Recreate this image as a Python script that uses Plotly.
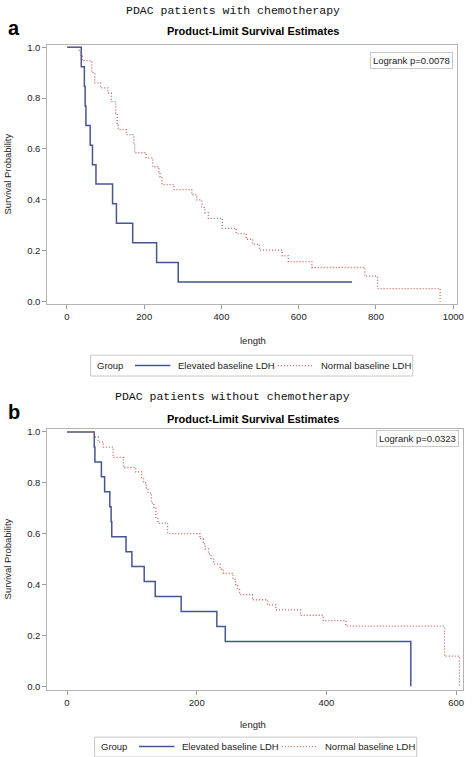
import plotly.graph_objects as go

W, H = 472, 757

# ---------------- data ----------------
group_names = ["Elevated baseline LDH", "Normal baseline LDH"]

a_elev_t = [0, 37, 45, 47, 49, 60, 66, 75, 118, 128, 170, 232, 288, 738]
a_elev_s = [1.0, 0.923, 0.846, 0.769, 0.692, 0.615, 0.538, 0.462, 0.385, 0.308, 0.231, 0.154, 0.077, 0.077]

a_norm_t = [0, 32, 35, 40, 64, 72, 87, 106, 115, 126, 130, 133, 154, 173, 175, 205, 222, 238, 241, 246,
            277, 323, 336, 349, 357, 366, 402, 438, 464, 481, 498, 557, 573, 634, 771, 804, 966]
a_norm_s = [1.0, 0.98, 0.965, 0.947, 0.90, 0.86, 0.84, 0.82, 0.786, 0.74, 0.70, 0.676, 0.656, 0.62, 0.585,
            0.565, 0.53, 0.51, 0.49, 0.46, 0.44, 0.42, 0.40, 0.37, 0.35, 0.327, 0.288, 0.267, 0.245, 0.225,
            0.202, 0.18, 0.157, 0.134, 0.10, 0.051, 0.0]

b_elev_t = [0, 42, 43, 53, 58, 66, 68, 69, 91, 100, 119, 136, 176, 231, 244, 530]
b_elev_s = [1.0, 0.941, 0.882, 0.824, 0.765, 0.706, 0.647, 0.588, 0.529, 0.471, 0.412, 0.353, 0.294,
            0.235, 0.176, 0.0]

b_norm_t = [0, 42, 48, 56, 71, 87, 106, 115, 118, 122, 125, 130, 134, 137, 140, 155, 205, 210, 213, 218,
            222, 226, 236, 241, 256, 260, 263, 266, 286, 309, 322, 360, 395, 430, 582, 605]
b_norm_s = [1.0, 0.98, 0.96, 0.94, 0.90, 0.86, 0.843, 0.82, 0.80, 0.78, 0.76, 0.72, 0.70, 0.66, 0.641,
            0.60, 0.58, 0.56, 0.54, 0.52, 0.50, 0.48, 0.46, 0.444, 0.42, 0.40, 0.38, 0.36, 0.34, 0.32,
            0.30, 0.279, 0.258, 0.236, 0.118, 0.0]

panel_titles = ["PDAC patients with chemotherapy", "PDAC patients without chemotherapy"]
panel_letters = ["a", "b"]
subtitle = "Product-Limit Survival Estimates"
logrank_labels = ["Logrank p=0.0078", "Logrank p=0.0323"]
legend_title = "Group"
y_ticks = [0.0, 0.2, 0.4, 0.6, 0.8, 1.0]
a_x_ticks = [0, 200, 400, 600, 800, 1000]
b_x_ticks = [0, 200, 400, 600]

# ---------------- styling ----------------
BLUE = "#445694"
RED = "#c0645a"
RED_DASH = "1px,2px"
FRAME = "#b4b4b4"
TXT = "#222222"
SANS = "Liberation Sans, Arial, sans-serif"
MONO = "Liberation Mono, monospace"


def px(x):
    return x / W


def py(y):
    return 1 - y / H


fig = go.Figure()

blue_line = dict(shape="hv", color=BLUE, width=1.5)
red_line = dict(shape="hv", color=RED, width=1.3, dash=RED_DASH)

fig.add_trace(go.Scatter(x=a_elev_t, y=a_elev_s, mode="lines", line=blue_line,
                         name=group_names[0], xaxis="x", yaxis="y"))
fig.add_trace(go.Scatter(x=a_norm_t, y=a_norm_s, mode="lines", line=red_line,
                         name=group_names[1], xaxis="x", yaxis="y"))
fig.add_trace(go.Scatter(x=b_elev_t, y=b_elev_s, mode="lines", line=blue_line,
                         name=group_names[0], xaxis="x2", yaxis="y2"))
fig.add_trace(go.Scatter(x=b_norm_t, y=b_norm_s, mode="lines", line=red_line,
                         name=group_names[1], xaxis="x2", yaxis="y2"))

axis_common = dict(showline=True, linecolor=FRAME, linewidth=1, mirror=True, ticks="outside",
                   ticklen=4, tickcolor="#999999", showgrid=False, zeroline=False,
                   tickfont=dict(family=SANS, size=9.5, color=TXT))

fig.update_layout(
    width=W, height=H, margin=dict(l=0, r=0, t=0, b=0),
    paper_bgcolor="white", plot_bgcolor="white", showlegend=False,
    xaxis=dict(domain=[px(48), px(464)], range=[-51, 1010], tickvals=a_x_ticks, anchor="y", **axis_common),
    yaxis=dict(domain=[py(303), py(42)], range=[-0.008, 1.01], tickvals=y_ticks, tickformat=".1f",
               anchor="x", **axis_common),
    xaxis2=dict(domain=[px(48), px(470)], range=[-30.4, 610.5], tickvals=b_x_ticks, anchor="y2", **axis_common),
    yaxis2=dict(domain=[py(692), py(429)], range=[-0.013, 1.013], tickvals=y_ticks, tickformat=".1f",
                anchor="x2", **axis_common),
)

ann = []
shapes = []
# titles and letters
for title, ty, letter, ly, sy in [(panel_titles[0], 8, panel_letters[0], 25, 28),
                                   (panel_titles[1], 397, panel_letters[1], 412, 419)]:
    ann.append(dict(text=title, x=px(236), y=py(ty), xref="paper", yref="paper", showarrow=False,
                    xanchor="center", yanchor="middle", font=dict(family=MONO, size=11.5, color="#111111")))
    ann.append(dict(text="<b>" + letter + "</b>", x=px(6), y=py(ly), xref="paper", yref="paper",
                    showarrow=False, xanchor="left", yanchor="middle",
                    font=dict(family=SANS, size=20, color="black")))
    ann.append(dict(text="<b>" + subtitle + "</b>", x=px(257), y=py(sy), xref="paper", yref="paper",
                    showarrow=False, xanchor="center", yanchor="middle",
                    font=dict(family=SANS, size=11, color="black")))

# logrank boxes
ann.append(dict(text=logrank_labels[0], x=px(460), y=py(49), xref="paper", yref="paper", showarrow=False,
                xanchor="right", yanchor="top", bordercolor="#c8c8c8", borderwidth=1, borderpad=2,
                bgcolor="white", font=dict(family=SANS, size=9.5, color=TXT)))
ann.append(dict(text=logrank_labels[1], x=px(466), y=py(430), xref="paper", yref="paper", showarrow=False,
                xanchor="right", yanchor="top", bordercolor="#c8c8c8", borderwidth=1, borderpad=2,
                bgcolor="white", font=dict(family=SANS, size=9.5, color=TXT)))

# axis titles
for cy, ly in [(172, 340), (560, 727)]:
    ann.append(dict(text="Survival Probability", x=px(8), y=py(cy), xref="paper", yref="paper",
                    showarrow=False, textangle=-90, xanchor="center", yanchor="middle",
                    font=dict(family=SANS, size=9.5, color=TXT)))
    ann.append(dict(text="length", x=px(257), y=py(ly), xref="paper", yref="paper", showarrow=False,
                    xanchor="center", yanchor="middle", font=dict(family=SANS, size=9.5, color=TXT)))

# group legends (box, title, line samples, labels)
for x0, top, bottom, cy in [(92, 355, 376, 365.5), (96, 740, 760, 749.5)]:
    shapes.append(dict(type="rect", xref="paper", yref="paper", x0=px(x0), x1=px(x0 + 327),
                       y0=py(bottom), y1=py(top), line=dict(color="#c8c8c8", width=1), fillcolor="white",
                       layer="below"))
    ann.append(dict(text=legend_title, x=px(x0 + 4), y=py(cy), xref="paper", yref="paper", showarrow=False,
                    xanchor="left", yanchor="middle", font=dict(family=SANS, size=9.5, color=TXT)))
    shapes.append(dict(type="line", xref="paper", yref="paper", x0=px(x0 + 45), x1=px(x0 + 81),
                       y0=py(cy), y1=py(cy), line=dict(color=BLUE, width=1.5)))
    ann.append(dict(text=group_names[0], x=px(x0 + 87), y=py(cy), xref="paper", yref="paper",
                    showarrow=False, xanchor="left", yanchor="middle",
                    font=dict(family=SANS, size=9.5, color=TXT)))
    shapes.append(dict(type="line", xref="paper", yref="paper", x0=px(x0 + 190), x1=px(x0 + 226),
                       y0=py(cy), y1=py(cy), line=dict(color=RED, width=1.3, dash=RED_DASH)))
    ann.append(dict(text=group_names[1], x=px(x0 + 232), y=py(cy), xref="paper", yref="paper",
                    showarrow=False, xanchor="left", yanchor="middle",
                    font=dict(family=SANS, size=9.5, color=TXT)))

fig.update_layout(annotations=ann, shapes=shapes)

fig.write_html("out.html", config={"displayModeBar": False},
               post_script="document.body.style.margin='0';document.body.style.overflow='hidden';")
